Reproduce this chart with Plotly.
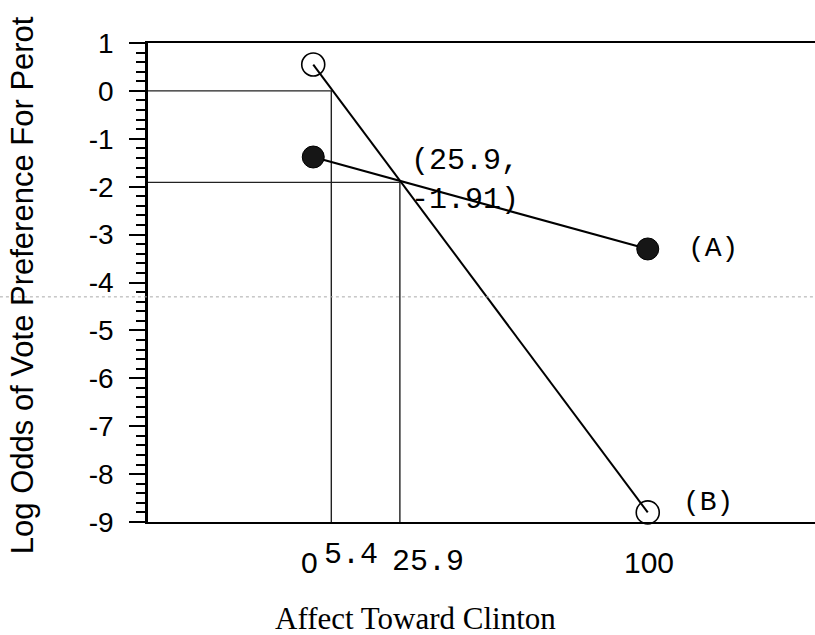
import plotly.graph_objects as go

# ---- data ----
x_points = [0, 100]
series_a = [-1.38, -3.3]     # (A) filled circles
series_b = [0.55, -8.8]      # (B) open circles
cross_x = 25.9
cross_y = -1.91
zero_x = 5.4
y_floor = -9
x_tick_vals = [0, 5.4, 25.9, 100]
x_tick_labels = ["0", "5.4", "25.9", "100"]
y_tick_vals = [-9, -8, -7, -6, -5, -4, -3, -2, -1, 0, 1]
y_tick_labels = ["-9", "-8", "-7", "-6", "-5", "-4", "-3", "-2", "-1", "0", "1"]
scan_line_y = -4.3

x_range = [-49.4, 150]
y_range = [-9, 1]

fig = go.Figure()

ref_line = dict(color="#222", width=1.4)
fig.add_trace(go.Scatter(x=[x_range[0], zero_x, zero_x], y=[0, 0, y_floor],
                         mode="lines", line=ref_line, hoverinfo="skip"))
fig.add_trace(go.Scatter(x=[x_range[0], cross_x, cross_x], y=[cross_y, cross_y, y_floor],
                         mode="lines", line=ref_line, hoverinfo="skip"))

fig.add_trace(go.Scatter(x=x_points, y=series_a, mode="lines+markers",
                         line=dict(color="black", width=2.2),
                         marker=dict(symbol="circle", size=22, color="#161616",
                                     line=dict(color="black", width=1)),
                         cliponaxis=False))
fig.add_trace(go.Scatter(x=x_points, y=series_b, mode="lines+markers",
                         line=dict(color="black", width=2),
                         marker=dict(symbol="circle-open", size=23, color="black",
                                     line=dict(width=1.6)),
                         cliponaxis=False))

mono = "Liberation Mono, Courier New, monospace"
sans = "Liberation Sans, Arial, Helvetica, sans-serif"
serif = "Liberation Serif, Times New Roman, serif"

ann = []
ann.append(dict(x=cross_x, y=cross_y, xref="x", yref="y", text="(25.9,<br>-1.91)",
                showarrow=False, xanchor="left", yanchor="middle", align="left",
                xshift=9, yshift=2, font=dict(family=mono, size=30, color="black")))
ann.append(dict(x=x_points[1], y=series_a[1], xref="x", yref="y", text="(A)",
                showarrow=False, xanchor="left", yanchor="middle", xshift=38,
                font=dict(family=mono, size=28, color="black")))
ann.append(dict(x=x_points[1], y=series_b[1], xref="x", yref="y", text="(B)",
                showarrow=False, xanchor="left", yanchor="middle", xshift=33, yshift=10,
                font=dict(family=mono, size=28, color="black")))

# x tick labels
tick_style = {
    "0": dict(font=dict(family=sans, size=30, color="black"), xanchor="center", xshift=-4, yshift=-40),
    "5.4": dict(font=dict(family=mono, size=30, color="black"), xanchor="left", xshift=-9, yshift=-33),
    "25.9": dict(font=dict(family=mono, size=30, color="black"), xanchor="left", xshift=-10, yshift=-40),
    "100": dict(font=dict(family=sans, size=30, color="black"), xanchor="center", xshift=1, yshift=-40),
}
for v, t in zip(x_tick_vals, x_tick_labels):
    st = tick_style[t]
    ann.append(dict(x=v, y=0, xref="x", yref="paper", text=t, showarrow=False,
                    yanchor="middle", **st))

ann.append(dict(x=0.4003, y=0, xref="paper", yref="paper", text="Affect Toward Clinton",
                showarrow=False, xanchor="center", yanchor="middle", yshift=-96,
                font=dict(family=serif, size=31, color="black")))
ann.append(dict(x=-0.187, y=0.495, xref="paper", yref="paper",
                text="Log Odds of Vote Preference For Perot", textangle=-90,
                showarrow=False, xanchor="center", yanchor="middle",
                font=dict(family=sans, size=31, color="black")))

fig.update_layout(
    width=815, height=635,
    margin=dict(l=148, r=0, t=43, b=113, pad=0),
    paper_bgcolor="white", plot_bgcolor="white",
    showlegend=False,
    annotations=ann,
    shapes=[dict(type="line", xref="paper", yref="y", x0=-0.222, x1=1,
                 y0=scan_line_y, y1=scan_line_y,
                 line=dict(color="#aaa", width=1, dash="dot"))],
)
fig.update_xaxes(range=x_range, showgrid=False, zeroline=False, showticklabels=False,
                 ticks="", showline=True, mirror=True, linecolor="black", linewidth=2.2,
                 automargin=False)
fig.update_yaxes(range=y_range, showgrid=False, zeroline=False,
                 tickvals=y_tick_vals, ticktext=y_tick_labels,
                 ticks="outside", ticklen=16, tickwidth=2, tickcolor="black",
                 ticklabelstandoff=10,
                 minor=dict(dtick=0.2, ticks="outside", ticklen=9, tickwidth=1.5, tickcolor="black"),
                 tickfont=dict(family=sans, size=28, color="black"),
                 showline=True, linecolor="black", linewidth=2.5, automargin=False)

# remove the page's default body margin so the figure fills the window exactly
fig.write_html("out.html", config={"displayModeBar": False},
               post_script="document.body.style.margin='0';document.body.style.overflow='hidden';")
